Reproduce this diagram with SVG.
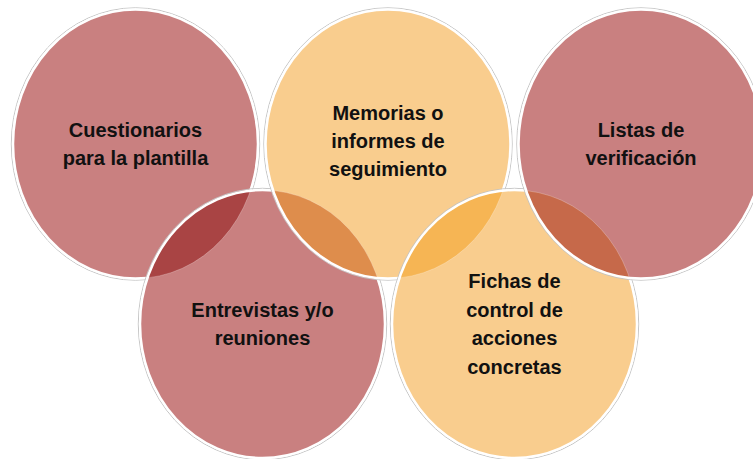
<svg xmlns="http://www.w3.org/2000/svg" width="753" height="459" viewBox="0 0 753 459">
<style>
.red{fill:#C98080}
.peach{fill:#F9CD8E}
.halo{fill:none;stroke:#C4C4C4;stroke-width:1}
.edge{fill:none;stroke:#FFFFFF;stroke-width:2.5}
.lensline{stroke:#FFFFFF;stroke-opacity:0.25;stroke-width:1}
.lbl{font-family:"Liberation Sans",Arial,sans-serif;font-weight:bold;font-size:20px;fill:#111111;text-anchor:middle}
</style>
<defs>
<clipPath id="clipC4"><ellipse cx="262.5" cy="324" rx="122.5" ry="134"/></clipPath>
<clipPath id="clipC2"><ellipse cx="388" cy="144" rx="122.5" ry="134.5"/></clipPath>
<clipPath id="clipC5"><ellipse cx="514.5" cy="324" rx="122.5" ry="134"/></clipPath>
<clipPath id="clipC3"><ellipse cx="641" cy="144" rx="122.5" ry="134.5"/></clipPath>
</defs>
<rect width="753" height="459" fill="#FFFFFF"/>
<g id="connectors"/>
<g id="node-cuestionarios">
<ellipse class="halo" cx="135.5" cy="144" rx="124.2" ry="136.2"/>
<ellipse class="red" cx="135.5" cy="144" rx="122.5" ry="134.5"/>
<ellipse class="edge" cx="135.5" cy="144" rx="122.5" ry="134.5"/>
<text class="lbl" x="135.5" y="137">Cuestionarios</text>
<text class="lbl" x="135.5" y="165">para la plantilla</text>
</g>
<g id="node-entrevistas">
<ellipse class="halo" cx="262.5" cy="324" rx="124.2" ry="135.7"/>
<ellipse class="red" cx="262.5" cy="324" rx="122.5" ry="134"/>
<ellipse class="lensline" fill="#A94444" clip-path="url(#clipC4)" cx="135.5" cy="144" rx="122.5" ry="134.5"/>
<ellipse class="edge" cx="262.5" cy="324" rx="122.5" ry="134"/>
<text class="lbl" x="262.5" y="317">Entrevistas y/o</text>
<text class="lbl" x="262.5" y="345">reuniones</text>
</g>
<g id="node-memorias">
<ellipse class="halo" cx="388" cy="144" rx="124.2" ry="136.2"/>
<ellipse class="peach" cx="388" cy="144" rx="122.5" ry="134.5"/>
<ellipse class="lensline" fill="#DE8D4C" clip-path="url(#clipC2)" cx="262.5" cy="324" rx="122.5" ry="134"/>
<ellipse class="edge" cx="388" cy="144" rx="122.5" ry="134.5"/>
<text class="lbl" x="388" y="120">Memorias o</text>
<text class="lbl" x="388" y="148">informes de</text>
<text class="lbl" x="388" y="176">seguimiento</text>
</g>
<g id="node-fichas">
<ellipse class="halo" cx="514.5" cy="324" rx="124.2" ry="135.7"/>
<ellipse class="peach" cx="514.5" cy="324" rx="122.5" ry="134"/>
<ellipse class="lensline" fill="#F6B554" clip-path="url(#clipC5)" cx="388" cy="144" rx="122.5" ry="134.5"/>
<ellipse class="edge" cx="514.5" cy="324" rx="122.5" ry="134"/>
<text class="lbl" x="514.5" y="288">Fichas de</text>
<text class="lbl" x="514.5" y="317">control de</text>
<text class="lbl" x="514.5" y="345">acciones</text>
<text class="lbl" x="514.5" y="374">concretas</text>
</g>
<g id="node-listas">
<ellipse class="halo" cx="641" cy="144" rx="124.2" ry="136.2"/>
<ellipse class="red" cx="641" cy="144" rx="122.5" ry="134.5"/>
<ellipse class="lensline" fill="#C6694A" clip-path="url(#clipC3)" cx="514.5" cy="324" rx="122.5" ry="134"/>
<ellipse class="edge" cx="641" cy="144" rx="122.5" ry="134.5"/>
<text class="lbl" x="641" y="137">Listas de</text>
<text class="lbl" x="641" y="165">verificación</text>
</g>
</svg>
